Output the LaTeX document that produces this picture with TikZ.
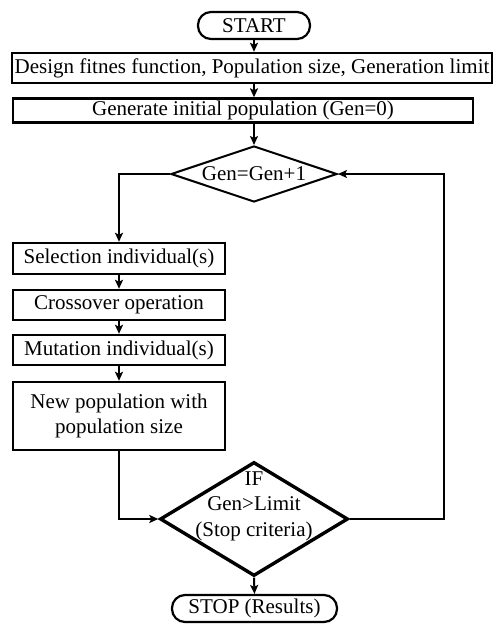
\documentclass[tikz,border=0pt]{standalone}
\usepackage{fontspec}
\setmainfont{Liberation Serif}
\usetikzlibrary{shapes.geometric,arrows.meta}
\begin{document}
\begin{tikzpicture}[x=1pt,y=-1pt,
  font=\fontsize{21}{25.5}\selectfont,
  box/.style={draw,line width=2.4pt,rectangle,inner sep=0pt,align=center},
  term/.style={draw,line width=2.2pt,rectangle,rounded corners=13pt,inner sep=0pt},
  dec/.style={draw,diamond,inner sep=0pt,line join=miter},
  conn/.style={line width=2pt,-{Stealth[length=9pt,width=8pt,inset=2pt]}},
]
\useasboundingbox (0,0) rectangle (495,624);

\node[term,minimum width=112pt,minimum height=27pt] (start) at (254,25.5) {START};
\node[box,minimum width=480pt,minimum height=30pt] (b1) at (252,68) {Design fitnes function, Population size, Generation limit};
\node[box,minimum width=460pt,minimum height=24pt] (b2) at (243,110.5) {Generate initial population (Gen=0)};
\node[dec,line width=2pt,minimum width=166pt,minimum height=56pt,label={center:Gen=Gen+1}] (d1) at (254,174) {};

\node[box,minimum width=212pt,minimum height=31pt] (sel) at (119,258.5) {Selection individual(s)};
\node[box,minimum width=212pt,minimum height=30pt] (cross) at (119,305) {Crossover operation};
\node[box,minimum width=212pt,minimum height=30pt] (mut) at (119,350) {Mutation individual(s)};
\node[box,minimum width=212pt,minimum height=68pt] (newp) at (119,416) {New population with\\population size};

\node[dec,line width=3.4pt,minimum width=188pt,minimum height=114pt,
  label={[align=center,yshift=13pt]center:IF\\Gen>Limit\\(Stop criteria)}] (d2) at (254,519) {};
\coordinate (rt) at (444,519);

\node[term,minimum width=165pt,minimum height=27pt] (stop) at (254.5,608.5) {STOP (Results)};

\draw[conn] (start.south) -- (start.south |- b1.north);
\draw[conn] (start.south |- b1.south) -- (start.south |- b2.north);
\draw[conn] (start.south |- b2.south) -- (d1.north);
\draw[conn] (d1.west) -| (sel.north);
\draw[conn] (sel.south) -- (cross.north);
\draw[conn] (cross.south) -- (mut.north);
\draw[conn] (mut.south) -- (newp.north);
\draw[conn] (newp.south) |- (d2.west);
\draw[conn] (d2.east) -- (rt) |- (d1.east);
\draw[conn] (d2.south) -- (stop.north);
\end{tikzpicture}
\end{document}
